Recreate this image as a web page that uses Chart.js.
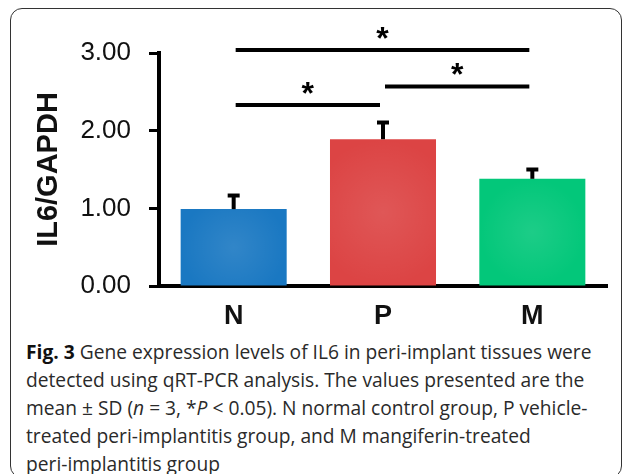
<!DOCTYPE html>
<html>
<head>
<meta charset="utf-8">
<script src="https://cdn.jsdelivr.net/npm/chart.js@4.4.1/dist/chart.umd.min.js"></script>
<style>
  html, body { margin: 0; padding: 0; background: #fff; }
  body { width: 627px; height: 474px; position: relative; overflow: hidden; }
  #frame {
    position: absolute; left: 10px; top: 8px; width: 612px; height: 470px;
    border: 1.5px solid #333; border-radius: 12px; box-sizing: border-box;
  }
  #wrap { position: absolute; left: 0; top: 0; width: 627px; height: 335px; }
  #caption {
    position: absolute; left: 26px; top: 338px;
    font-family: "Open Sans", sans-serif; font-size: 20px; color: #2a2a2a;
    line-height: 28px; transform: scaleX(0.96); transform-origin: left top;
    white-space: nowrap;
  }
  #caption b { font-weight: 700; color: #111; }
</style>
</head>
<body>
<div id="frame"></div>
<div id="wrap"><canvas id="il6Chart" width="627" height="335"></canvas></div>
<div id="caption">
  <div><b>Fig. 3</b> Gene expression levels of IL6 in peri-implant tissues were</div>
  <div>detected using qRT-PCR analysis. The values presented are the</div>
  <div>mean ± SD (<i>n</i> = 3, *<i>P</i> &lt; 0.05). N normal control group, P vehicle-</div>
  <div>treated peri-implantitis group, and M mangiferin-treated</div>
  <div>peri-implantitis group</div>
</div>
<script>
// datos
const grupos = ['N', 'P', 'M'];
const medias = [0.99, 1.89, 1.38];
const desviaciones = [0.175, 0.215, 0.12];
const colores = ['#1a78c2', '#dc4444', '#03c77a'];
const yTicks = [0, 1, 2, 3];
// comparaciones significativas: [grupo a, grupo b, altura de la linea]
const comparaciones = [[0, 2, 3.04], [0, 1, 2.33], [1, 2, 2.57]];

const extrasPlugin = {
    id: 'extras',
    afterDatasetsDraw(chart) {
        const ctx = chart.ctx;
        const x = chart.scales.x;
        const y = chart.scales.y;
        ctx.save();

        // brillo suave en el centro de cada barra
        chart.getDatasetMeta(0).data.forEach(bar => {
            const cx = bar.x, cy = (bar.y + bar.base) / 2;
            const r = Math.max(bar.width, bar.base - bar.y) / 2;
            const g = ctx.createRadialGradient(cx, cy, 0, cx, cy, r);
            g.addColorStop(0, 'rgba(255,255,255,0.10)');
            g.addColorStop(1, 'rgba(255,255,255,0)');
            ctx.fillStyle = g;
            ctx.fillRect(bar.x - bar.width / 2, bar.y, bar.width, bar.base - bar.y);
        });

        ctx.strokeStyle = '#000';
        ctx.fillStyle = '#000';

        // barras de error (solo hacia arriba)
        medias.forEach((m, i) => {
            const px = x.getPixelForValue(i);
            const yBase = y.getPixelForValue(m);
            const yTop = y.getPixelForValue(m + desviaciones[i]);
            ctx.lineWidth = 4;
            ctx.beginPath();
            ctx.moveTo(px, yBase);
            ctx.lineTo(px, yTop);
            ctx.stroke();
            ctx.beginPath();
            ctx.moveTo(px - 6, yTop);
            ctx.lineTo(px + 6, yTop);
            ctx.stroke();
        });

        // lineas de significancia con asterisco
        ctx.font = 'bold 32px "Liberation Sans", Arial, sans-serif';
        ctx.textAlign = 'center';
        ctx.textBaseline = 'middle';
        comparaciones.forEach(c => {
            const x1 = x.getPixelForValue(c[0]) + 2;
            const x2 = x.getPixelForValue(c[1]) - 3;
            const py = y.getPixelForValue(c[2]);
            ctx.lineWidth = 4;
            ctx.beginPath();
            ctx.moveTo(x1, py);
            ctx.lineTo(x2, py);
            ctx.stroke();
            ctx.fillText('*', (x1 + x2) / 2, py - 10);
        });
        ctx.restore();
    }
};

new Chart(document.getElementById('il6Chart'), {
    type: 'bar',
    data: {
        labels: grupos,
        datasets: [{
            data: medias,
            backgroundColor: colores,
            borderWidth: 0,
            barPercentage: 0.71,
            categoryPercentage: 1
        }]
    },
    options: {
        responsive: false,
        animation: false,
        devicePixelRatio: 1,
        layout: { padding: { top: 53, right: 20, bottom: 0, left: 0 } },
        plugins: {
            legend: { display: false },
            tooltip: { enabled: false }
        },
        scales: {
            x: {
                grid: { display: false, drawTicks: false },
                border: { display: true, color: '#000', width: 4 },
                ticks: {
                    color: '#111',
                    padding: 14,
                    font: { family: '"Liberation Sans", Arial, sans-serif', size: 27, weight: 'bold' }
                },
                afterFit(scale) { scale.height = 49; }
            },
            y: {
                min: 0,
                max: 3,
                afterBuildTicks(scale) { scale.ticks = yTicks.map(v => ({ value: v })); },
                grid: {
                    drawOnChartArea: false,
                    drawTicks: true,
                    tickLength: 10,
                    tickWidth: 3,
                    tickColor: '#000'
                },
                border: { display: true, color: '#000', width: 4 },
                ticks: {
                    color: '#111',
                    padding: 18,
                    callback: v => Number(v).toFixed(2),
                    font: { family: '"Liberation Sans", Arial, sans-serif', size: 26 }
                },
                title: {
                    display: true,
                    text: 'IL6/GAPDH',
                    color: '#111',
                    padding: { top: 32, bottom: 0 },
                    font: { family: '"Liberation Sans", Arial, sans-serif', size: 29, weight: 'bold' }
                },
                afterFit(scale) { scale.width = 159; }
            }
        }
    },
    plugins: [extrasPlugin]
});
</script>
</body>
</html>
